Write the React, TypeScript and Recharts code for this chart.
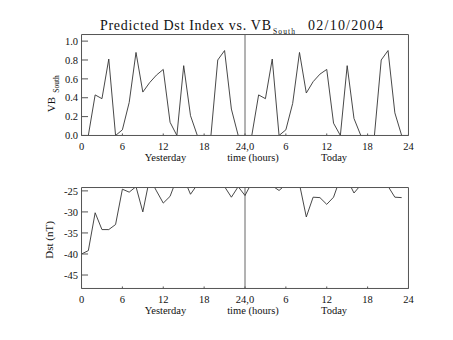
import React from 'react';
import { LineChart, Line, XAxis, YAxis, ReferenceLine } from 'recharts';

// hours since start of "yesterday"
const hours = [0,1,2,3,4,5,6,7,8,9,10,11,12,13,14,15,16,17,18,19,20,21,22,23,24,25,26,27,28,29,30,31,32,33,34,35,36,37,38,39,40,41,42,43,44,45,46,47,48];

const vbYesterday = [0, 0, 0.43, 0.39, 0.81, 0, 0.06, 0.35, 0.88, 0.46, 0.56, 0.64, 0.70, 0.14, 0, 0.74, 0.21, 0, 0, 0, 0.80, 0.90, 0.28, 0];
const vbToday = [0, 0, 0.43, 0.39, 0.81, 0, 0.06, 0.34, 0.88, 0.45, 0.57, 0.65, 0.70, 0.13, 0, 0.74, 0.18, 0, 0, 0, 0.80, 0.90, 0.24, 0, 0];

const dstYesterday = [-40.0, -39.2, -30.2, -34.2, -34.2, -33.0, -24.6, -25.3, -24.0, -30.0, -22.0, -25.0, -27.9, -26.3, -22.0, -22.0, -25.8, -23.5, -22.0, -22.0, -22.0, -24.0, -26.5, -24.0];
const dstToday = [-26.1, -23.0, -22.0, -22.0, -23.8, -24.9, -23.5, -22.0, -23.4, -31.2, -26.5, -26.6, -28.2, -26.5, -21.9, -22.3, -25.5, -23.6, -22.0, -22.0, -22.0, -23.9, -26.5, -26.6];

const xMajorTicks = [0, 6, 12, 18, 24, 30, 36, 42, 48];
const xMinorTicks = hours;
const vbMajorTicks = [0, 0.2, 0.4, 0.6, 0.8, 1.0];
const vbMinorTicks = [0, 0.05, 0.1, 0.15, 0.2, 0.25, 0.3, 0.35, 0.4, 0.45, 0.5, 0.55, 0.6, 0.65, 0.7, 0.75, 0.8, 0.85, 0.9, 0.95, 1.0, 1.05];
const dstMajorTicks = [-45, -40, -35, -30, -25];
const dstMinorTicks = [-48, -47, -46, -45, -44, -43, -42, -41, -40, -39, -38, -37, -36, -35, -34, -33, -32, -31, -30, -29, -28, -27, -26, -25];

const vbAll = [...vbYesterday, ...vbToday];
const dstAll = [...dstYesterday, ...dstToday];
const data = hours.map((h, i) => ({ h, vb: vbAll[i], dst: i < dstAll.length ? dstAll[i] : null }));

const FONT = 'Liberation Serif';
const tickStyle = { fontFamily: FONT, fontSize: 10.5, fill: '#111' };
const fmtX = (v: number) => (v === 24 ? '24,0' : String(v > 24 ? v - 24 : v));
const axisStroke = '#555';
const lineStroke = '#333';
const TH = 0.01; // near-zero axis thickness so axes render without taking space

function Panel(props: {
  top: number; bottom: number; dataKey: string; domain: [number, number];
  major: number[]; minor: number[]; fmtY: (v: number) => string;
}) {
  const { top, bottom, dataKey, domain, major, minor, fmtY } = props;
  return (
    <LineChart width={453} height={340} data={data}
      margin={{ top, bottom, left: 81.5, right: 44.5 }}
      style={{ position: 'absolute', left: 0, top: 0 }}>
      <XAxis xAxisId="b" dataKey="h" type="number" domain={[0, 48]} ticks={xMajorTicks} interval={0}
        tickSize={-2} tickMargin={9} height={TH} tickFormatter={fmtX} tick={tickStyle}
        stroke={axisStroke} allowDataOverflow />
      <XAxis xAxisId="bm" dataKey="h" type="number" domain={[0, 48]} ticks={xMinorTicks} interval={0}
        tickSize={-1} height={TH} tick={false} axisLine={false} stroke={axisStroke} />
      <XAxis xAxisId="t" orientation="top" dataKey="h" type="number" domain={[0, 48]} ticks={xMajorTicks} interval={0}
        tickSize={-2} height={TH} tick={false} stroke={axisStroke} />
      <XAxis xAxisId="tm" orientation="top" dataKey="h" type="number" domain={[0, 48]} ticks={xMinorTicks} interval={0}
        tickSize={-1} height={TH} tick={false} axisLine={false} stroke={axisStroke} />
      <YAxis yAxisId="l" type="number" domain={domain} ticks={major} interval={0} allowDataOverflow
        tickSize={-6.5} tickMargin={10} width={TH} tickFormatter={fmtY} tick={tickStyle} stroke={axisStroke} />
      <YAxis yAxisId="lm" type="number" domain={domain} ticks={minor} interval={0} allowDataOverflow
        tickSize={-3} width={TH} tick={false} axisLine={false} stroke={axisStroke} />
      <YAxis yAxisId="r" orientation="right" type="number" domain={domain} ticks={major} interval={0} allowDataOverflow
        tickSize={-6.5} width={TH} tick={false} stroke={axisStroke} />
      <YAxis yAxisId="rm" orientation="right" type="number" domain={domain} ticks={minor} interval={0} allowDataOverflow
        tickSize={-3} width={TH} tick={false} axisLine={false} stroke={axisStroke} />
      <ReferenceLine xAxisId="b" yAxisId="l" x={24} stroke="#666" strokeWidth={1} />
      <Line xAxisId="b" yAxisId="l" type="linear" dataKey={dataKey} stroke={lineStroke} strokeWidth={0.9}
        dot={false} isAnimationActive={false} connectNulls={false} />
    </LineChart>
  );
}

export default function App() {
  const txt = { fontFamily: FONT, fill: '#111' } as const;
  return (
    <div style={{ position: 'absolute', left: 0, top: 0, width: 453, height: 340, background: '#fff' }}>
      <Panel top={34.5} bottom={204.5} dataKey="vb" domain={[0, 1.07]} major={vbMajorTicks} minor={vbMinorTicks}
        fmtY={(v) => v.toFixed(1)} />
      <Panel top={187.5} bottom={51.5} dataKey="dst" domain={[-48.2, -24.2]} major={dstMajorTicks} minor={dstMinorTicks}
        fmtY={(v) => String(v)} />
      <svg width={453} height={340} style={{ position: 'absolute', left: 0, top: 0, pointerEvents: 'none' }}>
        <text x={100} y={29.5} fontSize={14} textLength={171} lengthAdjust="spacing" {...txt}>Predicted Dst Index vs. VB</text>
        <text x={273} y={34.3} fontSize={7.5} textLength={22} lengthAdjust="spacing" {...txt}>South</text>
        <text x={308} y={29.5} fontSize={14} textLength={75} lengthAdjust="spacing" {...txt}>02/10/2004</text>

        <text transform="translate(55,104.5) rotate(-90)" fontSize={11} textAnchor="middle" {...txt}>VB</text>
        <text transform="translate(59,84) rotate(-90)" fontSize={7.5} textAnchor="middle" {...txt}>South</text>
        <text transform="translate(52.5,240) rotate(-90)" fontSize={11} textAnchor="middle" {...txt}>Dst (nT)</text>

        <text x={165.5} y={160.5} fontSize={10.5} textAnchor="middle" {...txt}>Yesterday</text>
        <text x={253} y={160.5} fontSize={10.5} textAnchor="middle" {...txt}>time (hours)</text>
        <text x={334} y={160.5} fontSize={10.5} textAnchor="middle" {...txt}>Today</text>

        <text x={165.5} y={313.5} fontSize={10.5} textAnchor="middle" {...txt}>Yesterday</text>
        <text x={253} y={313.5} fontSize={10.5} textAnchor="middle" {...txt}>time (hours)</text>
        <text x={334} y={313.5} fontSize={10.5} textAnchor="middle" {...txt}>Today</text>
      </svg>
    </div>
  );
}
